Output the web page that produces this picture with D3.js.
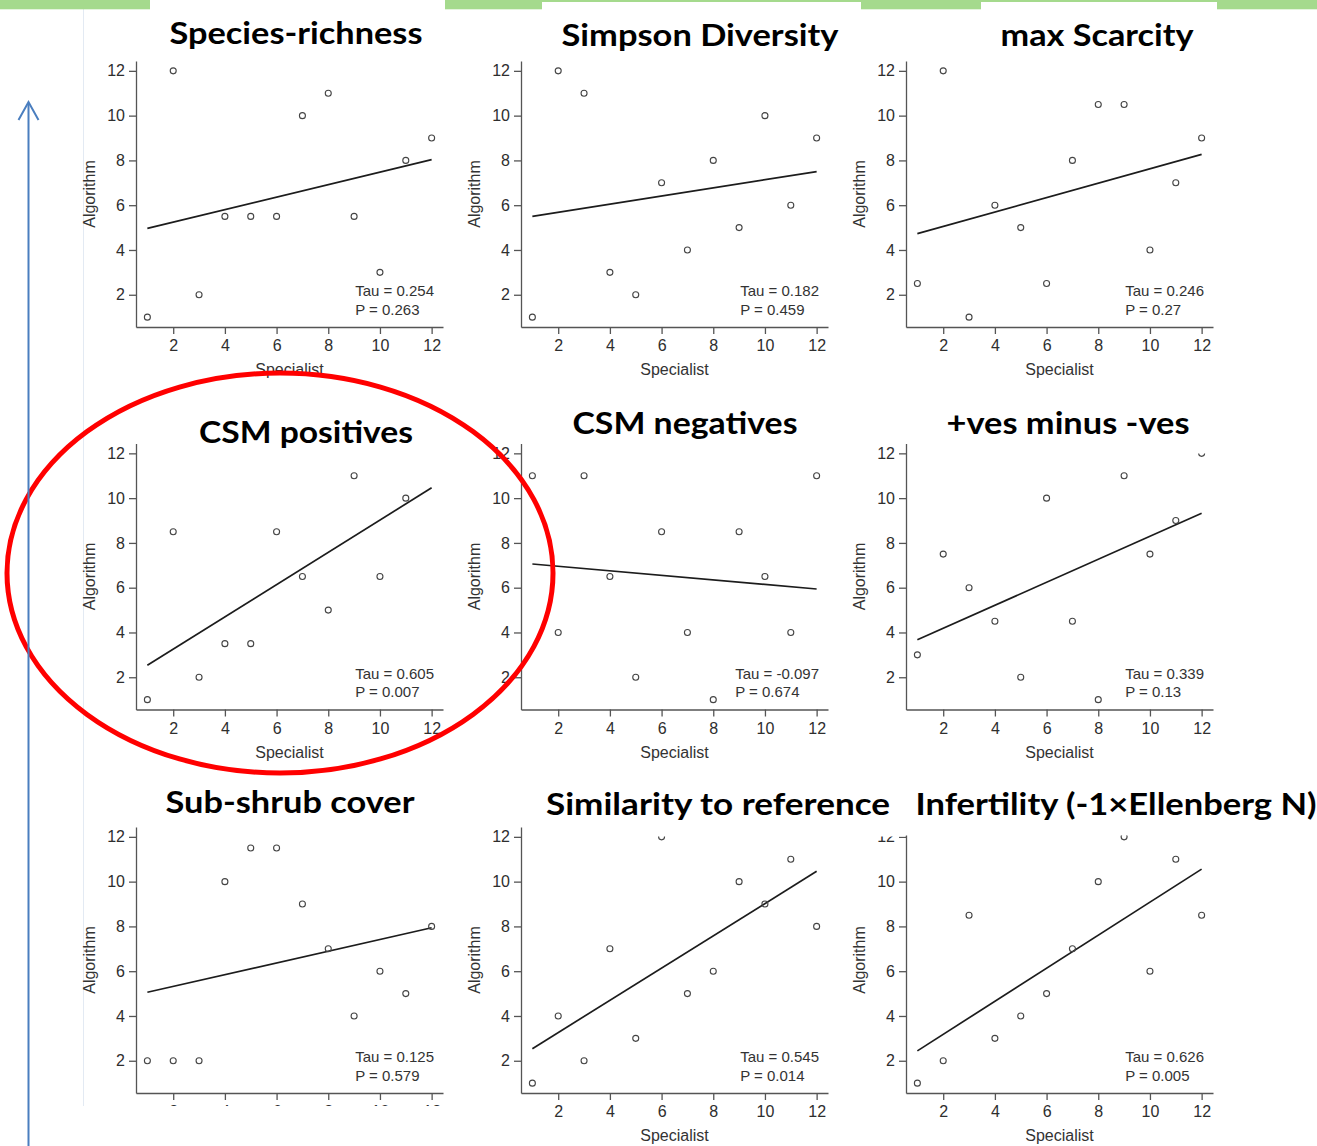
<!DOCTYPE html>
<html>
<head>
<meta charset="utf-8">
<script src="https://cdn.jsdelivr.net/npm/d3@7"></script>
<style>
  body { margin: 0; background: #fff; }
  svg { display: block; }
</style>
</head>
<body>
<div id="vis"></div>
<script>
// Declare constants
const FRAME_WIDTH = 1317;
const FRAME_HEIGHT = 1146;

// ranks given by the specialist (x) and by the algorithm (y), one array per panel
const SPECIALIST = [1, 2, 3, 4, 5, 6, 7, 8, 9, 10, 11, 12];
const SPECIES_RICHNESS = [1, 12, 2, 5.5, 5.5, 5.5, 10, 11, 5.5, 3, 8, 9];
const SIMPSON = [1, 12, 11, 3, 2, 7, 4, 8, 5, 10, 6, 9];
const MAX_SCARCITY = [2.5, 12, 1, 6, 5, 2.5, 8, 10.5, 10.5, 4, 7, 9];
const CSM_POSITIVES = [1, 8.5, 2, 3.5, 3.5, 8.5, 6.5, 5, 11, 6.5, 10, 12];
const CSM_NEGATIVES = [11, 4, 11, 6.5, 2, 8.5, 4, 1, 8.5, 6.5, 4, 11];
const POS_MINUS_NEG = [3, 7.5, 6, 4.5, 2, 10, 4.5, 1, 11, 7.5, 9, 12];
const SUB_SHRUB = [2, 2, 2, 10, 11.5, 11.5, 9, 7, 4, 6, 5, 8];
const SIMILARITY = [1, 4, 2, 7, 3, 12, 5, 6, 10, 9, 11, 8];
const INFERTILITY = [1, 2, 8.5, 3, 4, 5, 7, 10, 12, 6, 11, 8.5];

const TITLES = ["Species-richness", "Simpson Diversity", "max Scarcity",
                "CSM positives", "CSM negatives", "+ves minus -ves",
                "Sub-shrub cover", "Similarity to reference", "Infertility (-1×Ellenberg N)"];
const TAU = ["0.254", "0.182", "0.246", "0.605", "-0.097", "0.339", "0.125", "0.545", "0.626"];
const P_VALUES = ["0.263", "0.459", "0.27", "0.007", "0.674", "0.13", "0.579", "0.014", "0.005"];
const TICKS = [2, 4, 6, 8, 10, 12];

const SERIES = [SPECIES_RICHNESS, SIMPSON, MAX_SCARCITY,
                CSM_POSITIVES, CSM_NEGATIVES, POS_MINUS_NEG,
                SUB_SHRUB, SIMILARITY, INFERTILITY];

// layout
const COL_X = [136, 521, 906];        // left axis of each column
const ROW_Y = [327, 709.5, 1093];     // bottom axis of each row
const PLOT_W = 307;
const PLOT_H = 266;
const TITLE_POS = [
  {x: 296, y: 44, w: 253}, {x: 700, y: 46, w: 277}, {x: 1097, y: 46, w: 193},
  {x: 306, y: 443, w: 214}, {x: 685, y: 434, w: 225}, {x: 1068, y: 434, w: 243},
  {x: 290, y: 813, w: 249}, {x: 718, y: 815, w: 344}, {x: 1116, y: 815, w: 401}
];
const FONT = "'Liberation Sans', Arial, sans-serif";

const FRAME = d3.select("#vis")
                .append("svg")
                  .attr("width", FRAME_WIDTH)
                  .attr("height", FRAME_HEIGHT);

// R-style axis range: data range stretched by 4% on each side
const X_SCALE = d3.scaleLinear().domain([0.56, 12.44]).range([0, PLOT_W]);
const Y_SCALE = d3.scaleLinear().domain([0.56, 12.44]).range([PLOT_H, 0]);

// faint edge of the pasted image
FRAME.append("line")
  .attr("x1", 83.5).attr("x2", 83.5).attr("y1", 9).attr("y2", 1106)
  .attr("stroke", "#e3eaf3").attr("stroke-width", 1);

// least squares fit, as drawn in the original figure
function fit(xs, ys) {
  const mx = d3.mean(xs), my = d3.mean(ys);
  let sxy = 0, sxx = 0;
  xs.forEach((x, i) => { sxy += (x - mx) * (ys[i] - my); sxx += (x - mx) * (x - mx); });
  const b = sxy / sxx;
  return (x) => my + b * (x - mx);
}

function panel(i) {
  const ys = SERIES[i];
  const data = SPECIALIST.map((x, j) => ({x: x, y: ys[j]}));
  const left = COL_X[i % 3];
  const bottom = ROW_Y[Math.floor(i / 3)];
  const g = FRAME.append("g")
                 .attr("transform", "translate(" + left + "," + (bottom - PLOT_H) + ")");

  // axes
  const yAxis = g.append("g")
    .call(d3.axisLeft(Y_SCALE).tickValues(TICKS).tickSize(7).tickSizeOuter(0).tickPadding(4));
  const xAxis = g.append("g")
    .attr("transform", "translate(0," + PLOT_H + ")")
    .call(d3.axisBottom(X_SCALE).tickValues(TICKS).tickSize(7).tickSizeOuter(0).tickPadding(6));
  [xAxis, yAxis].forEach((a) => {
    a.attr("font-family", FONT).attr("font-size", 16);
    a.selectAll("path, line").attr("stroke", "#555").attr("stroke-width", 1.3);
    a.selectAll("text").attr("fill", "#2e2e2e");
  });

  // axis titles
  g.append("text")
    .attr("x", PLOT_W / 2).attr("y", PLOT_H + 48)
    .attr("text-anchor", "middle")
    .attr("font-family", FONT).attr("font-size", 16).attr("fill", "#333")
    .text("Specialist");
  g.append("text")
    .attr("transform", "translate(-47," + (PLOT_H / 2) + ") rotate(-90)")
    .attr("text-anchor", "middle").attr("dominant-baseline", "central")
    .attr("font-family", FONT).attr("font-size", 16).attr("fill", "#333")
    .text("Algorithm");

  // fitted line
  const f = fit(SPECIALIST, ys);
  g.append("line")
    .attr("x1", X_SCALE(1)).attr("y1", Y_SCALE(f(1)))
    .attr("x2", X_SCALE(12)).attr("y2", Y_SCALE(f(12)))
    .attr("stroke", "#1c1c1c").attr("stroke-width", 1.7);

  // points
  g.selectAll("circle")
    .data(data)
    .enter()
    .append("circle")
      .attr("cx", (d) => X_SCALE(d.x))
      .attr("cy", (d) => Y_SCALE(d.y))
      .attr("r", 3)
      .attr("fill", "none")
      .attr("stroke", "#444")
      .attr("stroke-width", 1.1);

  // Tau / P block, left aligned, placed at bottom right
  const stats = g.append("g");
  const t1 = stats.append("text").attr("y", PLOT_H - 31).text("Tau = " + TAU[i]);
  const t2 = stats.append("text").attr("y", PLOT_H - 12.5).text("P = " + P_VALUES[i]);
  stats.selectAll("text")
    .attr("font-family", FONT).attr("font-size", 15).attr("fill", "#333");
  const w = Math.max(t1.node().getComputedTextLength(), t2.node().getComputedTextLength());
  stats.selectAll("text").attr("x", 298 - w);
}

SERIES.forEach((s, i) => panel(i));

// white boxes of the slide that hide parts of the pasted plots
const COVERS = [
  [185, 395, 260, 63], [530, 395, 315, 53], [925, 395, 290, 58.5],
  [530, 778, 375, 58.5], [860, 778, 457, 57.5], [84, 1106, 374, 40]
];
FRAME.selectAll(".cover")
  .data(COVERS)
  .enter()
  .append("rect")
    .attr("class", "cover")
    .attr("x", (d) => d[0]).attr("y", (d) => d[1])
    .attr("width", (d) => d[2]).attr("height", (d) => d[3])
    .attr("fill", "#fff");

// panel titles
FRAME.selectAll(".title")
  .data(TITLES)
  .enter()
  .append("text")
    .attr("class", "title")
    .attr("x", (d, i) => TITLE_POS[i].x)
    .attr("y", (d, i) => TITLE_POS[i].y)
    .attr("text-anchor", "middle")
    .attr("textLength", (d, i) => TITLE_POS[i].w)
    .attr("lengthAdjust", "spacingAndGlyphs")
    .attr("font-family", "Lato, 'Open Sans', sans-serif")
    .attr("font-weight", 700)
    .attr("font-size", 30)
    .attr("fill", "#000")
    .text((d) => d);

// red ellipse around the CSM positives panel
FRAME.append("ellipse")
  .attr("cx", 280).attr("cy", 573).attr("rx", 273).attr("ry", 200)
  .attr("fill", "none").attr("stroke", "#f00").attr("stroke-width", 5);

// blue arrow on the left
FRAME.append("line")
  .attr("x1", 28.5).attr("x2", 28.5).attr("y1", 103).attr("y2", FRAME_HEIGHT)
  .attr("stroke", "#4a7ebf").attr("stroke-width", 2);
FRAME.append("path")
  .attr("d", "M18.5,120 L28.5,102 L38.5,120")
  .attr("fill", "none").attr("stroke", "#4a7ebf").attr("stroke-width", 2);

// green strip along the top of the slide
const STRIPS = [[0, 150, 9.3], [445, 97, 9.3], [542, 319, 2], [861, 120, 9.3], [981, 236, 2], [1217, 100, 9.3]];
FRAME.selectAll(".strip")
  .data(STRIPS)
  .enter()
  .append("rect")
    .attr("class", "strip")
    .attr("x", (d) => d[0]).attr("y", 0)
    .attr("width", (d) => d[1]).attr("height", (d) => d[2])
    .attr("fill", "#a5da8d");
</script>
</body>
</html>
